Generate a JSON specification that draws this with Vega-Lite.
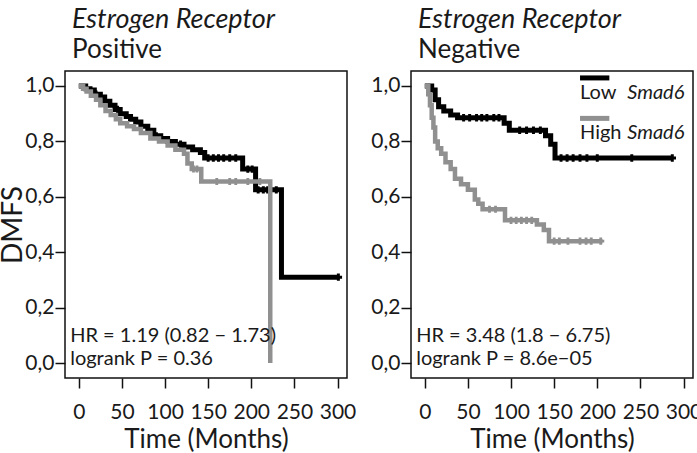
{
  "$schema": "https://vega.github.io/schema/vega-lite/v6.json",
  "padding": {"left": -2, "top": 5, "right": 0, "bottom": 0},
  "spacing": 13,
  "datasets": {
    "curves": [
      {"panel":"pos","group":"Low","t":0,"s":1.0},
      {"panel":"pos","group":"Low","t":8,"s":0.99},
      {"panel":"pos","group":"Low","t":13,"s":0.985},
      {"panel":"pos","group":"Low","t":18,"s":0.97},
      {"panel":"pos","group":"Low","t":25,"s":0.96},
      {"panel":"pos","group":"Low","t":30,"s":0.945},
      {"panel":"pos","group":"Low","t":36,"s":0.93},
      {"panel":"pos","group":"Low","t":42,"s":0.915},
      {"panel":"pos","group":"Low","t":48,"s":0.9},
      {"panel":"pos","group":"Low","t":55,"s":0.89},
      {"panel":"pos","group":"Low","t":60,"s":0.88},
      {"panel":"pos","group":"Low","t":66,"s":0.87},
      {"panel":"pos","group":"Low","t":72,"s":0.855},
      {"panel":"pos","group":"Low","t":80,"s":0.84},
      {"panel":"pos","group":"Low","t":87,"s":0.82},
      {"panel":"pos","group":"Low","t":95,"s":0.81},
      {"panel":"pos","group":"Low","t":103,"s":0.8},
      {"panel":"pos","group":"Low","t":112,"s":0.79},
      {"panel":"pos","group":"Low","t":122,"s":0.78},
      {"panel":"pos","group":"Low","t":132,"s":0.77},
      {"panel":"pos","group":"Low","t":141,"s":0.76},
      {"panel":"pos","group":"Low","t":146,"s":0.74},
      {"panel":"pos","group":"Low","t":190,"s":0.7},
      {"panel":"pos","group":"Low","t":205,"s":0.625},
      {"panel":"pos","group":"Low","t":235,"s":0.31},
      {"panel":"pos","group":"Low","t":301,"s":0.31},
      {"panel":"pos","group":"High","t":0,"s":1.0},
      {"panel":"pos","group":"High","t":5,"s":0.99},
      {"panel":"pos","group":"High","t":9,"s":0.98},
      {"panel":"pos","group":"High","t":14,"s":0.965},
      {"panel":"pos","group":"High","t":20,"s":0.95},
      {"panel":"pos","group":"High","t":25,"s":0.93},
      {"panel":"pos","group":"High","t":31,"s":0.91},
      {"panel":"pos","group":"High","t":37,"s":0.895},
      {"panel":"pos","group":"High","t":43,"s":0.88},
      {"panel":"pos","group":"High","t":48,"s":0.865},
      {"panel":"pos","group":"High","t":56,"s":0.855},
      {"panel":"pos","group":"High","t":64,"s":0.845},
      {"panel":"pos","group":"High","t":72,"s":0.83},
      {"panel":"pos","group":"High","t":83,"s":0.81},
      {"panel":"pos","group":"High","t":93,"s":0.8},
      {"panel":"pos","group":"High","t":103,"s":0.785},
      {"panel":"pos","group":"High","t":112,"s":0.77},
      {"panel":"pos","group":"High","t":122,"s":0.755},
      {"panel":"pos","group":"High","t":126,"s":0.72},
      {"panel":"pos","group":"High","t":131,"s":0.7},
      {"panel":"pos","group":"High","t":142,"s":0.655},
      {"panel":"pos","group":"High","t":222,"s":0.0},
      {"panel":"neg","group":"Low","t":0,"s":1.0},
      {"panel":"neg","group":"Low","t":8,"s":0.985},
      {"panel":"neg","group":"Low","t":12,"s":0.95},
      {"panel":"neg","group":"Low","t":16,"s":0.925},
      {"panel":"neg","group":"Low","t":22,"s":0.91},
      {"panel":"neg","group":"Low","t":30,"s":0.895},
      {"panel":"neg","group":"Low","t":38,"s":0.885},
      {"panel":"neg","group":"Low","t":92,"s":0.865},
      {"panel":"neg","group":"Low","t":98,"s":0.84},
      {"panel":"neg","group":"Low","t":140,"s":0.82},
      {"panel":"neg","group":"Low","t":146,"s":0.79},
      {"panel":"neg","group":"Low","t":151,"s":0.74},
      {"panel":"neg","group":"Low","t":287,"s":0.74},
      {"panel":"neg","group":"High","t":0,"s":1.0},
      {"panel":"neg","group":"High","t":4,"s":0.97},
      {"panel":"neg","group":"High","t":6,"s":0.93},
      {"panel":"neg","group":"High","t":8,"s":0.885},
      {"panel":"neg","group":"High","t":10,"s":0.85},
      {"panel":"neg","group":"High","t":12,"s":0.8},
      {"panel":"neg","group":"High","t":15,"s":0.775},
      {"panel":"neg","group":"High","t":19,"s":0.755},
      {"panel":"neg","group":"High","t":24,"s":0.725},
      {"panel":"neg","group":"High","t":30,"s":0.7},
      {"panel":"neg","group":"High","t":35,"s":0.665},
      {"panel":"neg","group":"High","t":42,"s":0.645},
      {"panel":"neg","group":"High","t":50,"s":0.625},
      {"panel":"neg","group":"High","t":58,"s":0.59},
      {"panel":"neg","group":"High","t":62,"s":0.575},
      {"panel":"neg","group":"High","t":67,"s":0.555},
      {"panel":"neg","group":"High","t":93,"s":0.515},
      {"panel":"neg","group":"High","t":130,"s":0.5},
      {"panel":"neg","group":"High","t":138,"s":0.48},
      {"panel":"neg","group":"High","t":144,"s":0.44},
      {"panel":"neg","group":"High","t":206,"s":0.44}
    ],
    "censors": [
      {"panel":"pos","group":"Low","t":20,"s":0.97},
      {"panel":"pos","group":"Low","t":45,"s":0.915},
      {"panel":"pos","group":"Low","t":90,"s":0.82},
      {"panel":"pos","group":"Low","t":118,"s":0.79},
      {"panel":"pos","group":"Low","t":150,"s":0.74},
      {"panel":"pos","group":"Low","t":156,"s":0.74},
      {"panel":"pos","group":"Low","t":162,"s":0.74},
      {"panel":"pos","group":"Low","t":168,"s":0.74},
      {"panel":"pos","group":"Low","t":175,"s":0.74},
      {"panel":"pos","group":"Low","t":182,"s":0.74},
      {"panel":"pos","group":"Low","t":196,"s":0.7},
      {"panel":"pos","group":"Low","t":201,"s":0.7},
      {"panel":"pos","group":"Low","t":208,"s":0.625},
      {"panel":"pos","group":"Low","t":214,"s":0.625},
      {"panel":"pos","group":"Low","t":219,"s":0.625},
      {"panel":"pos","group":"Low","t":229,"s":0.625},
      {"panel":"pos","group":"Low","t":301,"s":0.31},
      {"panel":"pos","group":"High","t":133,"s":0.7},
      {"panel":"pos","group":"High","t":137,"s":0.7},
      {"panel":"pos","group":"High","t":160,"s":0.655},
      {"panel":"pos","group":"High","t":175,"s":0.655},
      {"panel":"pos","group":"High","t":182,"s":0.655},
      {"panel":"pos","group":"High","t":196,"s":0.655},
      {"panel":"pos","group":"High","t":210,"s":0.655},
      {"panel":"neg","group":"Low","t":45,"s":0.885},
      {"panel":"neg","group":"Low","t":52,"s":0.885},
      {"panel":"neg","group":"Low","t":60,"s":0.885},
      {"panel":"neg","group":"Low","t":66,"s":0.885},
      {"panel":"neg","group":"Low","t":72,"s":0.885},
      {"panel":"neg","group":"Low","t":80,"s":0.885},
      {"panel":"neg","group":"Low","t":86,"s":0.885},
      {"panel":"neg","group":"Low","t":110,"s":0.84},
      {"panel":"neg","group":"Low","t":118,"s":0.84},
      {"panel":"neg","group":"Low","t":126,"s":0.84},
      {"panel":"neg","group":"Low","t":134,"s":0.84},
      {"panel":"neg","group":"Low","t":158,"s":0.74},
      {"panel":"neg","group":"Low","t":165,"s":0.74},
      {"panel":"neg","group":"Low","t":172,"s":0.74},
      {"panel":"neg","group":"Low","t":180,"s":0.74},
      {"panel":"neg","group":"Low","t":188,"s":0.74},
      {"panel":"neg","group":"Low","t":200,"s":0.74},
      {"panel":"neg","group":"Low","t":240,"s":0.74},
      {"panel":"neg","group":"Low","t":287,"s":0.74},
      {"panel":"neg","group":"High","t":75,"s":0.555},
      {"panel":"neg","group":"High","t":82,"s":0.555},
      {"panel":"neg","group":"High","t":100,"s":0.515},
      {"panel":"neg","group":"High","t":106,"s":0.515},
      {"panel":"neg","group":"High","t":112,"s":0.515},
      {"panel":"neg","group":"High","t":118,"s":0.515},
      {"panel":"neg","group":"High","t":124,"s":0.515},
      {"panel":"neg","group":"High","t":150,"s":0.44},
      {"panel":"neg","group":"High","t":156,"s":0.44},
      {"panel":"neg","group":"High","t":166,"s":0.44},
      {"panel":"neg","group":"High","t":180,"s":0.44},
      {"panel":"neg","group":"High","t":187,"s":0.44},
      {"panel":"neg","group":"High","t":193,"s":0.44},
      {"panel":"neg","group":"High","t":204,"s":0.44}
    ],
    "notes": [
      {"panel":"pos","t":-10,"s":0.099,"label":"HR = 1.19 (0.82 − 1.73)"},
      {"panel":"pos","t":-10,"s":0.014,"label":"logrank P = 0.36"},
      {"panel":"neg","t":-10,"s":0.099,"label":"HR = 3.48 (1.8 − 6.75)"},
      {"panel":"neg","t":-10,"s":0.014,"label":"logrank P = 8.6e−05"}
    ],
    "legend": [
      {"group":"Low","t":180,"t2":214,"s":1.029,"ls":0.975,"name":"Low","gene":"Smad6","te":301},
      {"group":"High","t":180,"t2":214,"s":0.883,"ls":0.829,"name":"High","gene":"Smad6","te":301}
    ]
  },
  "hconcat": [
    {
      "width": 282,
      "height": 307,
      "title": {"text": "Estrogen Receptor", "subtitle": "Positive", "dx": 7, "frame": "group"},
      "encoding": {
        "x": {"field": "t", "type": "quantitative", "scale": {"domain": [-16, 311], "nice": false, "zero": false},
              "axis": {"title": "Time (Months)", "values": [0, 50, 100, 150, 200, 250, 300], "titleFontSize": 26, "titlePadding": 4, "labelPadding": 13.5}},
        "y": {"field": "s", "type": "quantitative", "scale": {"domain": [-0.054, 1.054], "nice": false, "zero": false},
              "axis": {"title": "DMFS", "values": [0, 0.2, 0.4, 0.6, 0.8, 1], "labelExpr": "replace(format(datum.value,'.1f'),'.',',')", "titleFontSize": 28, "titlePadding": 0, "minExtent": 38, "maxExtent": 38, "labelPadding": 1}}
      },
      "layer": [
        {"data": {"name": "curves"}, "transform": [{"filter": "datum.panel==='pos' && datum.group==='Low'"}],
         "mark": {"type": "line", "interpolate": "step-after", "color": "#000000", "strokeWidth": 5}},
        {"data": {"name": "censors"}, "transform": [{"filter": "datum.panel==='pos' && datum.group==='Low'"}],
         "mark": {"type": "point", "shape": "cross", "filled": true, "size": 55, "color": "#000000", "opacity": 1}},
        {"data": {"name": "curves"}, "transform": [{"filter": "datum.panel==='pos' && datum.group==='High'"}],
         "mark": {"type": "line", "interpolate": "step-after", "color": "#909090", "strokeWidth": 4.5}},
        {"data": {"name": "censors"}, "transform": [{"filter": "datum.panel==='pos' && datum.group==='High'"}],
         "mark": {"type": "point", "shape": "cross", "filled": true, "size": 50, "color": "#909090", "opacity": 1}},
        {"data": {"name": "notes"}, "transform": [{"filter": "datum.panel==='pos'"}],
         "mark": {"type": "text", "align": "left", "baseline": "middle"},
         "encoding": {"text": {"field": "label"}}}
      ]
    },
    {
      "width": 282,
      "height": 307,
      "title": {"text": "Estrogen Receptor", "subtitle": "Negative", "dx": 7, "frame": "group"},
      "encoding": {
        "x": {"field": "t", "type": "quantitative", "scale": {"domain": [-16, 311], "nice": false, "zero": false},
              "axis": {"title": "Time (Months)", "values": [0, 50, 100, 150, 200, 250, 300], "titleFontSize": 26, "titlePadding": 4, "labelPadding": 13.5}},
        "y": {"field": "s", "type": "quantitative", "scale": {"domain": [-0.054, 1.054], "nice": false, "zero": false},
              "axis": {"title": null, "values": [0, 0.2, 0.4, 0.6, 0.8, 1], "labelExpr": "replace(format(datum.value,'.1f'),'.',',')", "labelPadding": 1}}
      },
      "layer": [
        {"data": {"name": "curves"}, "transform": [{"filter": "datum.panel==='neg' && datum.group==='Low'"}],
         "mark": {"type": "line", "interpolate": "step-after", "color": "#000000", "strokeWidth": 5}},
        {"data": {"name": "censors"}, "transform": [{"filter": "datum.panel==='neg' && datum.group==='Low'"}],
         "mark": {"type": "point", "shape": "cross", "filled": true, "size": 55, "color": "#000000", "opacity": 1}},
        {"data": {"name": "curves"}, "transform": [{"filter": "datum.panel==='neg' && datum.group==='High'"}],
         "mark": {"type": "line", "interpolate": "step-after", "color": "#909090", "strokeWidth": 4.5}},
        {"data": {"name": "censors"}, "transform": [{"filter": "datum.panel==='neg' && datum.group==='High'"}],
         "mark": {"type": "point", "shape": "cross", "filled": true, "size": 50, "color": "#909090", "opacity": 1}},
        {"data": {"name": "notes"}, "transform": [{"filter": "datum.panel==='neg'"}],
         "mark": {"type": "text", "align": "left", "baseline": "middle"},
         "encoding": {"text": {"field": "label"}}},
        {"data": {"name": "legend"},
         "mark": {"type": "rule", "strokeWidth": 5},
         "encoding": {"x2": {"field": "t2"},
                      "color": {"field": "group", "type": "nominal", "scale": {"domain": ["Low", "High"], "range": ["#000000", "#909090"]}, "legend": null}}},
        {"data": {"name": "legend"},
         "mark": {"type": "text", "align": "left", "baseline": "middle"},
         "encoding": {"y": {"field": "ls", "type": "quantitative"}, "text": {"field": "name"}}},
        {"data": {"name": "legend"},
         "mark": {"type": "text", "align": "right", "baseline": "middle", "fontStyle": "italic"},
         "encoding": {"x": {"field": "te", "type": "quantitative"}, "y": {"field": "ls", "type": "quantitative"}, "text": {"field": "gene"}}}
      ]
    }
  ],
  "config": {
    "font": "Lato",
    "background": "white",
    "view": {"stroke": "#111111", "strokeWidth": 1.5},
    "axis": {"domain": false, "grid": false, "tickColor": "#111111", "tickWidth": 1.5, "tickSize": 10,
             "labelFont": "Lato", "titleFont": "Lato", "labelFontSize": 21, "labelColor": "#1a1a1a", "titleColor": "#1a1a1a",
             "titleFontWeight": "normal", "labelFlush": false, "labelOverlap": false},
    "title": {"anchor": "start", "font": "Lato", "fontSize": 27, "fontStyle": "italic", "fontWeight": "normal",
              "subtitleFont": "Lato", "subtitleFontSize": 26, "subtitleFontStyle": "normal", "subtitleFontWeight": "normal",
              "color": "#1a1a1a", "subtitleColor": "#1a1a1a", "offset": 7, "subtitlePadding": 3},
    "text": {"font": "Lato", "fontSize": 20, "color": "#1a1a1a"}
  }
}
